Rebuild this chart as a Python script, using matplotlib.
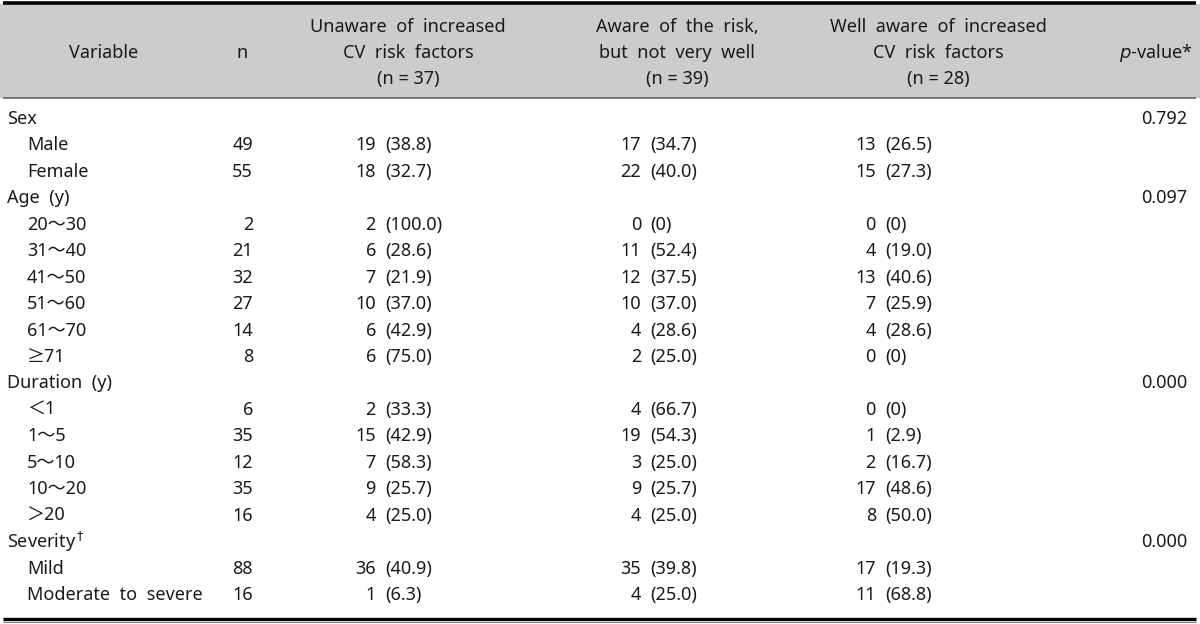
import matplotlib
matplotlib.use("Agg")
import matplotlib.pyplot as plt

plt.rcParams['font.family'] = ['Noto Sans', 'Noto Sans CJK JP', 'DejaVu Sans']

headers = ["Variable", "n",
           "Unaware  of  increased\nCV  risk  factors\n(n = 37)",
           "Aware  of  the  risk,\nbut  not  very  well\n(n = 39)",
           "Well  aware  of  increased\nCV  risk  factors\n(n = 28)"]

labels = ["Sex", "Male", "Female",
          "Age  (y)", "20～30", "31～40", "41～50", "51～60", "61～70", "≥71",
          "Duration  (y)", "＜1", "1～5", "5～10", "10～20", "＞20",
          "Severity$^\\dagger$", "Mild", "Moderate  to  severe"]
is_group = [True, False, False,
            True, False, False, False, False, False, False,
            True, False, False, False, False, False,
            True, False, False]
n_vals = ["", "49", "55", "", "2", "21", "32", "27", "14", "8",
          "", "6", "35", "12", "35", "16", "", "88", "16"]
unaware_n = ["", "19", "18", "", "2", "6", "7", "10", "6", "6",
             "", "2", "15", "7", "9", "4", "", "36", "1"]
unaware_pct = ["", "(38.8)", "(32.7)", "", "(100.0)", "(28.6)", "(21.9)", "(37.0)", "(42.9)", "(75.0)",
               "", "(33.3)", "(42.9)", "(58.3)", "(25.7)", "(25.0)", "", "(40.9)", "(6.3)"]
aware_n = ["", "17", "22", "", "0", "11", "12", "10", "4", "2",
           "", "4", "19", "3", "9", "4", "", "35", "4"]
aware_pct = ["", "(34.7)", "(40.0)", "", "(0)", "(52.4)", "(37.5)", "(37.0)", "(28.6)", "(25.0)",
             "", "(66.7)", "(54.3)", "(25.0)", "(25.7)", "(25.0)", "", "(39.8)", "(25.0)"]
well_n = ["", "13", "15", "", "0", "4", "13", "7", "4", "0",
          "", "0", "1", "2", "17", "8", "", "17", "11"]
well_pct = ["", "(26.5)", "(27.3)", "", "(0)", "(19.0)", "(40.6)", "(25.9)", "(28.6)", "(0)",
            "", "(0)", "(2.9)", "(16.7)", "(48.6)", "(50.0)", "", "(19.3)", "(68.8)"]
p_vals = ["0.792", "", "", "0.097", "", "", "", "", "", "",
          "0.000", "", "", "", "", "", "0.000", "", ""]

W, H = 1200, 624
fig = plt.figure(figsize=(W / 100, H / 100), dpi=100)
ax = fig.add_axes([0, 0, 1, 1])
ax.set_xlim(0, W)
ax.set_ylim(H, 0)
ax.axis("off")

fs = 13
tc = "#1a1a1a"
# header background
ax.axhspan(4, 97, color="#cccccc", zorder=0)
ax.plot([3, 1196], [2.5, 2.5], color="black", lw=2.6, solid_capstyle="butt")
ax.plot([3, 1196], [97.5, 97.5], color="#6e6e6e", lw=1.3, solid_capstyle="butt")
ax.plot([3, 1196], [619, 619], color="black", lw=2.4, solid_capstyle="butt")
ax.plot([3, 1196], [621.5, 621.5], color="#888888", lw=0.8, solid_capstyle="butt")

hdr_x = [104, 242, 408, 677, 938]
for hx, h in zip(hdr_x, headers):
    ax.text(hx, 53, h, ha="center", va="center", fontsize=fs,
            linespacing=1.55, color=tc)
ax.text(1156, 53, "$p$-value*", ha="center", va="center", fontsize=fs, color=tc,
        math_fontfamily="dejavusans")

y0, dy = 119, 26.45
for i, lab in enumerate(labels):
    y = y0 + i * dy
    ax.text(7 if is_group[i] else 27, y, lab, ha="left", va="center", fontsize=fs, color=tc)
    ax.text(253, y, n_vals[i], ha="right", va="center", fontsize=fs, color=tc)
    for cx, px, cn, cp in [(376, 385, unaware_n, unaware_pct),
                           (641, 650, aware_n, aware_pct),
                           (876, 885, well_n, well_pct)]:
        ax.text(cx, y, cn[i], ha="right", va="center", fontsize=fs, color=tc)
        ax.text(px, y, cp[i], ha="left", va="center", fontsize=fs, color=tc)
    ax.text(1187, y, p_vals[i], ha="right", va="center", fontsize=fs, color=tc)

fig.savefig("out.png", dpi=100)
